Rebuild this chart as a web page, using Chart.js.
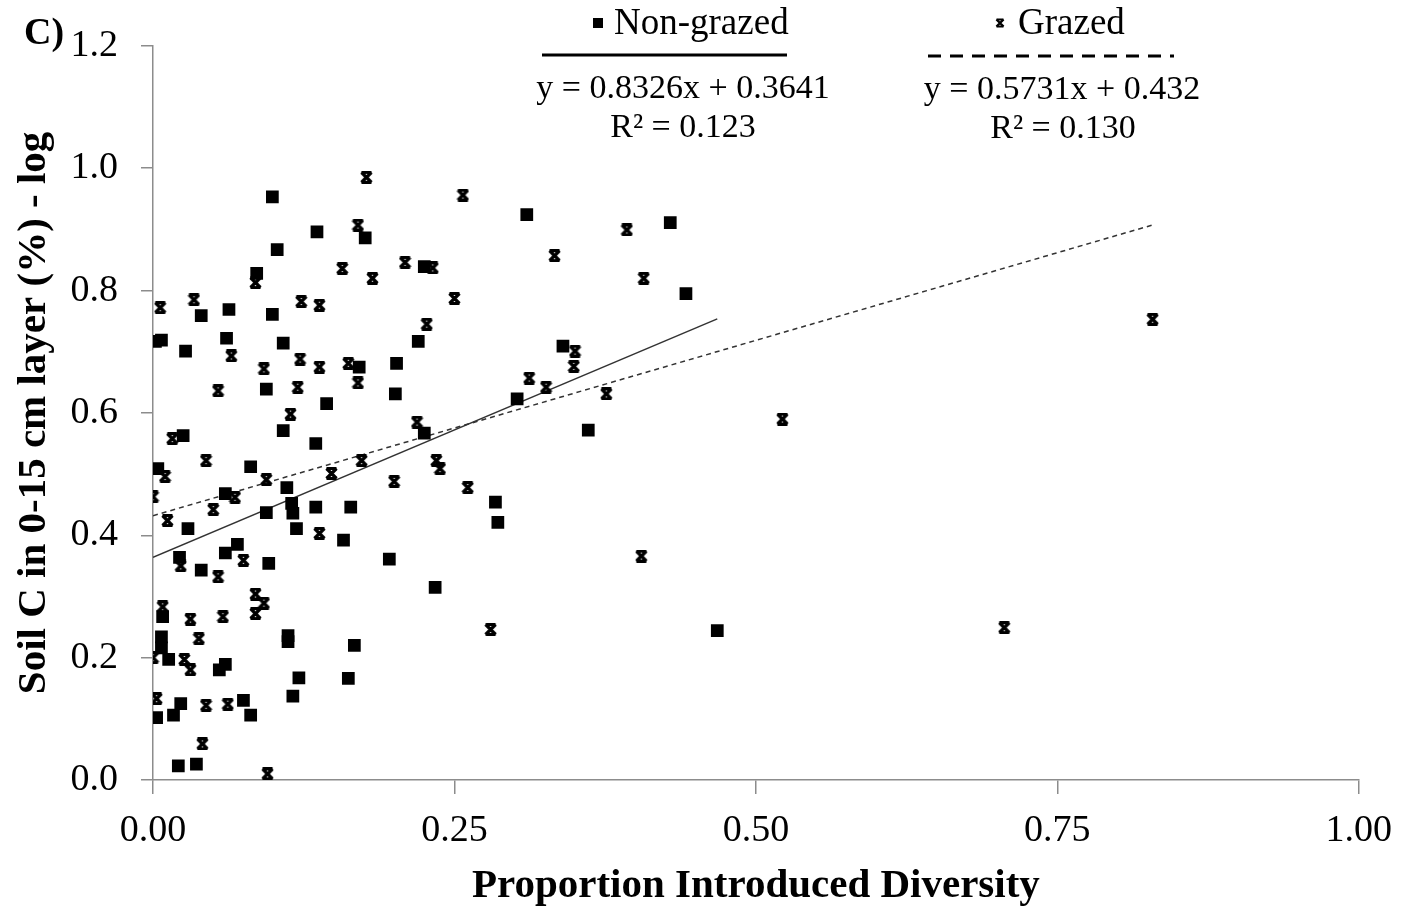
<!DOCTYPE html>
<html>
<head>
<meta charset="utf-8">
<script src="https://cdn.jsdelivr.net/npm/chart.js@4.4.1/dist/chart.umd.min.js"></script>
<style>
  body { margin: 0; background: #fff; }
  canvas { display: block; }
</style>
</head>
<body>
<canvas id="myChart" width="1406" height="907"></canvas>
<script>
// Non-grazed sites (squares)
const ng_x = [0.099, 0.103, 0.136, 0.176, 0.086, 0.040, 0.063, 0.099, 0.002, 0.007,
  0.027, 0.061, 0.108, 0.094, 0.108, 0.135, 0.025, 0.004, 0.081, 0.111,
  0.060, 0.115, 0.116, 0.119, 0.135, 0.094, 0.029, 0.022, 0.060, 0.070,
  0.096, 0.040, 0.008, 0.007, 0.007, 0.112, 0.112, 0.013, 0.055, 0.060,
  0.121, 0.116, 0.023, 0.003, 0.017, 0.075, 0.081, 0.021, 0.036, 0.310,
  0.429, 0.225, 0.220, 0.202, 0.171, 0.201, 0.144, 0.225, 0.164, 0.158,
  0.196, 0.234, 0.167, 0.162, 0.442, 0.340, 0.302, 0.361, 0.284, 0.286,
  0.468];
const ng_y = [0.953, 0.867, 0.896, 0.886, 0.828, 0.759, 0.769, 0.761, 0.717, 0.719,
  0.701, 0.722, 0.714, 0.639, 0.571, 0.550, 0.563, 0.509, 0.512, 0.478,
  0.468, 0.452, 0.436, 0.411, 0.446, 0.437, 0.411, 0.364, 0.371, 0.385,
  0.354, 0.343, 0.267, 0.234, 0.216, 0.236, 0.226, 0.197, 0.180, 0.189,
  0.167, 0.137, 0.125, 0.102, 0.106, 0.130, 0.106, 0.023, 0.026, 0.924,
  0.911, 0.839, 0.717, 0.681, 0.675, 0.631, 0.615, 0.567, 0.446, 0.392,
  0.361, 0.315, 0.220, 0.166, 0.795, 0.709, 0.623, 0.572, 0.454, 0.421,
  0.244];

// Grazed sites (stars)
const g_x = [0.006, 0.034, 0.123, 0.138, 0.065, 0.122, 0.092, 0.138, 0.085, 0.177,
  0.257, 0.170, 0.157, 0.182, 0.209, 0.232, 0.250, 0.227, 0.162, 0.054,
  0.120, 0.114, 0.016, 0.010, 0.044, 0.094, 0.000, 0.068, 0.050, 0.012,
  0.138, 0.023, 0.075, 0.054, 0.085, 0.092, 0.008, 0.031, 0.058, 0.085,
  0.038, 0.000, 0.026, 0.031, 0.003, 0.044, 0.062, 0.041, 0.095, 0.170,
  0.219, 0.173, 0.148, 0.235, 0.238, 0.200, 0.261, 0.280, 0.393, 0.333,
  0.407, 0.350, 0.349, 0.312, 0.326, 0.376, 0.405, 0.522, 0.706, 0.829];
const g_y = [0.772, 0.785, 0.782, 0.776, 0.693, 0.688, 0.672, 0.675, 0.813, 0.985,
  0.956, 0.907, 0.836, 0.820, 0.846, 0.837, 0.787, 0.745, 0.681, 0.636,
  0.642, 0.598, 0.558, 0.496, 0.522, 0.491, 0.463, 0.462, 0.442, 0.424,
  0.403, 0.350, 0.359, 0.332, 0.304, 0.289, 0.283, 0.263, 0.267, 0.272,
  0.231, 0.200, 0.197, 0.180, 0.133, 0.122, 0.124, 0.059, 0.010, 0.649,
  0.585, 0.522, 0.501, 0.522, 0.509, 0.488, 0.478, 0.246, 0.899, 0.857,
  0.820, 0.701, 0.676, 0.657, 0.642, 0.631, 0.366, 0.590, 0.249, 0.753];

// linear fits shown on the chart
const ng_fit = { slope: 0.8326, intercept: 0.3641, r2: "0.123" };
const g_fit = { slope: 0.5731, intercept: 0.432, r2: "0.130" };

const y_ticks = [0.0, 0.2, 0.4, 0.6, 0.8, 1.0, 1.2];
const x_ticks = [0.00, 0.25, 0.50, 0.75, 1.00];

const FONT = "'Liberation Serif', 'Times New Roman', serif";

// star marker like the excel one (an X with little caps)
function makeStar(s, w) {
  const c = document.createElement("canvas");
  c.width = s; c.height = s;
  const g = c.getContext("2d");
  g.strokeStyle = "#000";
  const p = 1.5, q = s - 1.5;
  g.lineWidth = w;
  g.beginPath();
  g.moveTo(p, p); g.lineTo(q, q);
  g.moveTo(q, p); g.lineTo(p, q);
  g.stroke();
  g.lineWidth = w * 0.9;
  g.beginPath();
  g.moveTo(p, p); g.lineTo(q, p);
  g.moveTo(p, q); g.lineTo(q, q);
  g.stroke();
  return c;
}
const star = makeStar(13, 3.2);
const smallStar = makeStar(10, 2.4);

function toPoints(xs, ys) {
  return xs.map((x, i) => ({ x: x, y: ys[i] }));
}
function fitLine(fit, xs) {
  const xmax = Math.max(...xs);
  return [{ x: 0, y: fit.intercept }, { x: xmax, y: fit.intercept + fit.slope * xmax }];
}

const annotations = {
  id: "annotations",
  afterDraw(chart) {
    const ctx = chart.ctx;
    ctx.save();
    ctx.fillStyle = "#000";
    ctx.textBaseline = "alphabetic";

    ctx.font = "bold 38px " + FONT;
    ctx.textAlign = "left";
    ctx.fillText("C)", 24, 44);

    // non-grazed block
    ctx.font = "37px " + FONT;
    ctx.textAlign = "left";
    ctx.fillText("Non-grazed", 614, 34);
    ctx.fillRect(593, 18, 10, 10);
    ctx.strokeStyle = "#000";
    ctx.lineWidth = 3;
    ctx.beginPath();
    ctx.moveTo(542, 55); ctx.lineTo(787, 55);
    ctx.stroke();

    ctx.font = "34px " + FONT;
    ctx.textAlign = "center";
    ctx.fillText("y = " + ng_fit.slope + "x + " + ng_fit.intercept, 683, 98);
    ctx.fillText("R\u00B2 = " + ng_fit.r2, 683, 137);

    // grazed block
    ctx.font = "37px " + FONT;
    ctx.textAlign = "left";
    ctx.fillText("Grazed", 1018, 34);
    ctx.drawImage(smallStar, 995, 18);
    ctx.setLineDash([13, 9]);
    ctx.beginPath();
    ctx.moveTo(928, 56); ctx.lineTo(1174, 56);
    ctx.stroke();
    ctx.setLineDash([]);
    ctx.font = "34px " + FONT;
    ctx.textAlign = "center";
    ctx.fillText("y = " + g_fit.slope + "x + " + g_fit.intercept, 1062, 99);
    ctx.fillText("R\u00B2 = " + g_fit.r2, 1063, 138);
    ctx.restore();
  }
};

const config = {
  type: "scatter",
  data: {
    datasets: [
      {
        label: "Non-grazed",
        data: toPoints(ng_x, ng_y),
        pointStyle: "rect",
        pointRadius: 9,
        backgroundColor: "#000",
        borderColor: "#000",
        borderWidth: 0,
      },
      {
        label: "Grazed",
        data: toPoints(g_x, g_y),
        pointStyle: star,
        pointRadius: 6,
      },
      {
        type: "line",
        label: "Non-grazed fit",
        data: fitLine(ng_fit, ng_x),
        borderColor: "#333",
        borderWidth: 1.5,
        pointRadius: 0,
        fill: false,
      },
      {
        type: "line",
        label: "Grazed fit",
        data: fitLine(g_fit, g_x),
        borderColor: "#333",
        borderWidth: 1.5,
        borderDash: [5, 4],
        pointRadius: 0,
        fill: false,
      },
    ],
  },
  options: {
    responsive: false,
    animation: false,
    layout: { padding: { left: 0, right: 46, top: 42, bottom: 0 } },
    plugins: {
      legend: { display: false },
      tooltip: { enabled: false },
    },
    scales: {
      x: {
        type: "linear",
        min: 0,
        max: 1,
        afterFit: (s) => { s.height = 127; },
        afterBuildTicks: (s) => { s.ticks = x_ticks.map((v) => ({ value: v })); },
        border: { color: "#8c8c8c", width: 1.5 },
        grid: { drawOnChartArea: false, drawTicks: true, tickLength: 14, color: "#8c8c8c", lineWidth: 1.5 },
        ticks: {
          color: "#000",
          padding: 14,
          maxRotation: 0,
          font: { family: FONT, size: 38 },
          callback: (v) => Number(v).toFixed(2),
        },
        title: {
          display: true,
          text: "Proportion Introduced Diversity",
          color: "#000",
          font: { family: FONT, size: 41, weight: "bold", lineHeight: 1 },
          padding: { top: 0, bottom: 0 },
        },
      },
      y: {
        type: "linear",
        min: 0,
        max: 1.2,
        afterFit: (s) => { s.width = 153; },
        afterBuildTicks: (s) => { s.ticks = y_ticks.map((v) => ({ value: v })); },
        border: { color: "#8c8c8c", width: 1.5 },
        grid: { drawOnChartArea: false, drawTicks: true, tickLength: 12, color: "#8c8c8c", lineWidth: 1.5 },
        ticks: {
          color: "#000",
          padding: 23,
          font: { family: FONT, size: 38 },
          callback: (v) => Number(v).toFixed(1),
        },
        title: {
          display: true,
          text: "Soil C in 0-15 cm layer (%) - log",
          color: "#000",
          font: { family: FONT, size: 41, weight: "bold", lineHeight: 1 },
          padding: { top: 14, bottom: 0 },
        },
      },
    },
  },
  plugins: [annotations],
};

var myChart = new Chart(document.getElementById("myChart"), config);
</script>
</body>
</html>
